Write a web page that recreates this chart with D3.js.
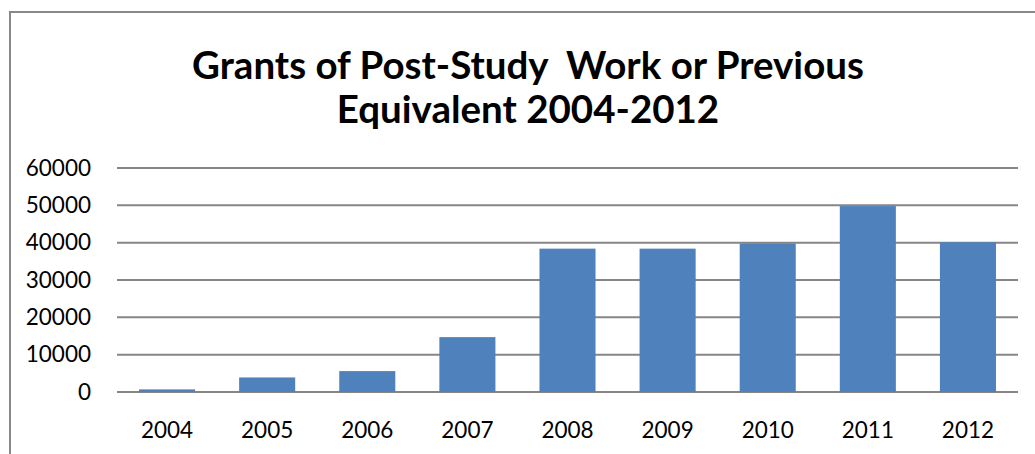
<!DOCTYPE html>
<html>
<head>
<meta charset="utf-8">
<script src="https://cdn.jsdelivr.net/npm/d3@7"></script>
<style>
  body { margin: 0; background: #fff; }
  text { font-family: "Lato", "Liberation Sans", sans-serif; fill: #000; }
</style>
</head>
<body>
<div id="chart"></div>
<script>
const years = ["2004", "2005", "2006", "2007", "2008", "2009", "2010", "2011", "2012"];
const grants = [700, 3900, 5600, 14700, 38400, 38400, 39800, 49800, 40100];
const yTicks = [0, 10000, 20000, 30000, 40000, 50000, 60000];
const titleLines = ["Grants of Post-Study  Work or Previous", "Equivalent 2004-2012"];

var W = 1035, H = 454;
var margin = {top: 168, right: 17, bottom: 62, left: 117},
    width = W - margin.left - margin.right,
    height = H - margin.top - margin.bottom;

var svg = d3.select("#chart").append("svg")
    .attr("width", W)
    .attr("height", H);

// chart area border (right and bottom fall outside the picture)
svg.append("rect")
    .attr("x", 10).attr("y", 12)
    .attr("width", W + 20).attr("height", H + 20)
    .attr("fill", "none")
    .attr("stroke", "#888")
    .attr("stroke-width", 2);

svg.append("text")
    .attr("x", 528)
    .attr("y", 79)
    .attr("text-anchor", "middle")
    .style("font-size", "38.5px")
    .style("font-weight", "bold")
    .style("white-space", "pre")
    .selectAll("tspan")
    .data(titleLines)
    .join("tspan")
    .attr("x", 528)
    .attr("dy", (d, i) => i == 0 ? 0 : 44)
    .text(d => d);

var g = svg.append("g")
    .attr("transform", "translate(" + margin.left + "," + margin.top + ")");

var xScale = d3.scaleBand()
    .domain(years)
    .range([0, width])
    .paddingInner(0.44)
    .paddingOuter(0.22);

var yScale = d3.scaleLinear()
    .domain([0, 60000])
    .range([height, 0]);

// gridlines
g.append("g")
    .selectAll("line")
    .data(yTicks)
    .join("line")
    .attr("x1", 0)
    .attr("x2", width)
    .attr("y1", d => yScale(d))
    .attr("y2", d => yScale(d))
    .attr("stroke", "#868686")
    .attr("stroke-width", 2);

g.append("g")
    .selectAll("rect")
    .data(grants)
    .join("rect")
    .attr("x", (d, i) => xScale(years[i]))
    .attr("width", xScale.bandwidth())
    .attr("y", d => yScale(d))
    .attr("height", d => height - yScale(d))
    .attr("fill", "#4f81bd");

// y axis labels
var yAxis = g.append("g")
    .call(d3.axisLeft(yScale).tickValues(yTicks).tickFormat(d3.format("d")).tickSize(0).tickPadding(26));
yAxis.select(".domain").remove();
yAxis.selectAll("text")
    .style("font-size", "22.5px")
    .style("font-family", "Lato, 'Liberation Sans', sans-serif");

// x axis labels
var xAxis = g.append("g")
    .attr("transform", "translate(0," + height + ")")
    .call(d3.axisBottom(xScale).tickSize(0).tickPadding(30));
xAxis.select(".domain").remove();
xAxis.selectAll("text")
    .style("font-size", "22.5px")
    .style("font-family", "Lato, 'Liberation Sans', sans-serif");
</script>
</body>
</html>
